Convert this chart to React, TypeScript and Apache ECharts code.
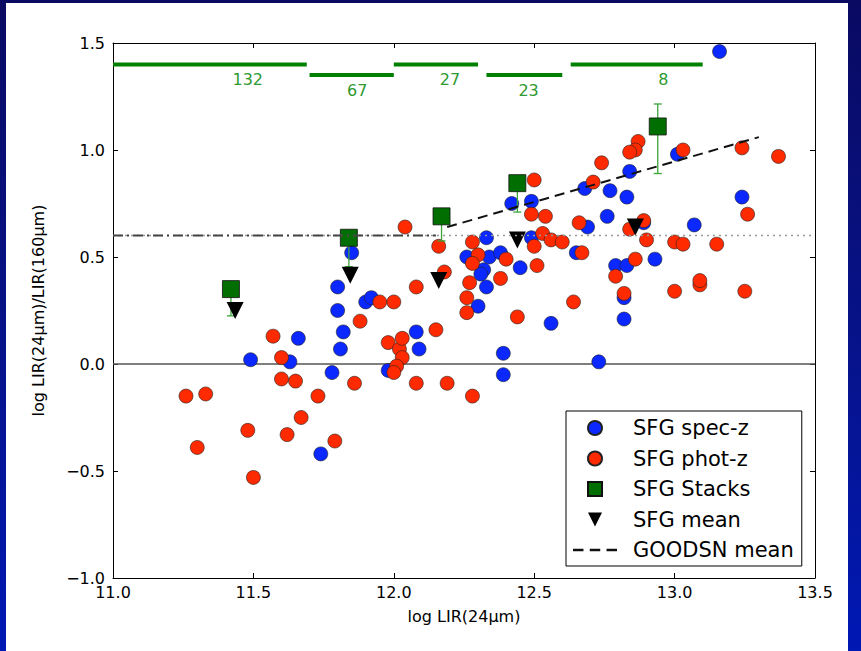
import React, { useEffect, useRef } from "react";
import * as echarts from "echarts";

// ---- data ----
const specZ: number[][] = [
  [13.16, 1.46], [11.49, 0.02], [11.63, 0.01], [11.66, 0.12], [11.74, -0.42],
  [11.78, -0.04], [11.80, 0.36], [11.80, 0.25], [11.82, 0.15], [11.81, 0.07],
  [11.85, 0.52], [11.90, 0.29], [11.92, 0.31], [11.98, -0.03], [12.08, 0.15],
  [12.09, 0.07], [12.42, 0.75], [12.49, 0.76], [12.33, 0.59], [12.49, 0.59],
  [12.26, 0.50], [12.34, 0.50], [12.38, 0.52], [12.45, 0.45], [12.32, 0.44],
  [12.31, 0.42], [12.33, 0.36], [12.30, 0.27], [12.39, 0.05], [12.39, -0.05],
  [12.56, 0.19], [12.73, 0.01], [12.65, 0.52], [12.69, 0.64], [12.68, 0.82],
  [12.77, 0.81], [12.83, 0.78], [12.84, 0.90], [12.76, 0.69], [12.89, 0.66],
  [12.79, 0.46], [12.83, 0.46], [12.93, 0.49], [12.82, 0.31], [12.82, 0.21],
  [13.07, 0.65], [13.01, 0.98], [13.24, 0.78],
];

const photZ: number[][] = [
  [11.26, -0.15], [11.33, -0.14], [11.30, -0.39], [11.48, -0.31], [11.50, -0.53],
  [11.57, 0.13], [11.60, 0.03], [11.60, -0.07], [11.65, -0.08], [11.62, -0.33],
  [11.67, -0.25], [11.73, -0.15], [11.79, -0.36], [11.86, -0.09], [11.88, 0.20],
  [11.95, 0.29], [12.00, 0.29], [11.98, 0.10], [12.02, 0.07], [12.03, 0.12],
  [12.03, 0.03], [12.01, -0.01], [12.00, -0.04], [12.08, -0.09], [12.15, 0.16],
  [12.19, -0.09], [12.04, 0.64], [12.16, 0.55], [12.18, 0.43], [12.08, 0.36],
  [12.28, 0.57], [12.30, 0.51], [12.28, 0.47], [12.40, 0.49], [12.27, 0.38],
  [12.38, 0.40], [12.26, 0.31], [12.26, 0.24], [12.44, 0.22], [12.28, -0.15],
  [12.50, 0.86], [12.49, 0.70], [12.54, 0.69], [12.53, 0.61], [12.56, 0.58],
  [12.50, 0.55], [12.60, 0.57], [12.51, 0.46], [12.64, 0.29], [12.66, 0.66],
  [12.67, 0.52], [12.71, 0.85], [12.74, 0.94], [12.87, 1.04], [12.86, 1.00],
  [12.84, 0.99], [12.89, 0.67], [12.84, 0.63], [12.90, 0.58], [12.86, 0.49],
  [12.79, 0.41], [12.82, 0.33], [13.00, 0.57], [13.03, 0.56], [13.15, 0.56],
  [13.03, 1.00], [13.00, 0.34], [13.09, 0.37], [13.09, 0.39], [13.24, 1.01],
  [13.37, 0.97], [13.26, 0.70], [13.25, 0.34],
];

const stackX = [11.42, 11.84, 12.17, 12.44, 12.94];
const stackY = [0.35, 0.59, 0.69, 0.845, 1.11];
const stackErrLow = [0.125, 0.135, 0.115, 0.135, 0.22];
const stackErrHigh = [0, 0, 0, 0, 0.105];

const meanX = [11.435, 11.845, 12.16, 12.44, 12.86];
const meanY = [0.25, 0.415, 0.39, 0.58, 0.64];

const goodsnX = [12.19, 13.3];
const goodsnY = [0.64, 1.06];

const refLevel = 0.6;
const dashDotEnd = 12.15;

const binStart = [11.0, 11.7, 12.0, 12.33, 12.63];
const binEnd = [11.69, 12.0, 12.3, 12.6, 13.1];
const binLevel = [1.4, 1.35, 1.4, 1.35, 1.4];
const binLabelX = [11.48, 11.87, 12.2, 12.48, 12.96];
const binCount = [132, 67, 27, 23, 8];

const xTickLabels = ["11.0", "11.5", "12.0", "12.5", "13.0", "13.5"];
const yTickLabels = ["\u22121.0", "\u22120.5", "0.0", "0.5", "1.0", "1.5"];

const FONT = "DejaVu Sans";
const DOWN_TRI = "path://M0,0 L10,0 L5,10 Z";
const SQUARE = "path://M0,0 L10,0 L10,10 L0,10 Z";
const DASH_ICON = "path://M0,0h10v2.2h-10z M16,0h10v2.2h-10z M32,0h10v2.2h-10z";

export default function App() {
  const ref = useRef<HTMLDivElement>(null);

  useEffect(() => {
    document.body.style.margin = "0";
    if (!ref.current) return;
    const chart = echarts.init(ref.current, null, { renderer: "svg" });

    const xMin = 11, xMax = 13.5, yMin = -1, yMax = 1.5, step = 0.5;
    const xFmt = (v: number) => xTickLabels[Math.round((v - xMin) / step)] ?? "";
    const yFmt = (v: number) => yTickLabels[Math.round((v - yMin) / step)] ?? "";

    const baseAxis = {
      axisLine: { show: true, onZero: false, lineStyle: { color: "#000", width: 1 } },
      axisTick: { show: true, inside: true, length: 5, lineStyle: { color: "#000" } },
      splitLine: { show: false },
    };

    chart.setOption({
      animation: false,
      textStyle: { fontFamily: FONT },
      grid: { left: 113, right: 46, top: 43, bottom: 73 },
      xAxis: [
        {
          ...baseAxis,
          type: "value", position: "bottom", min: xMin, max: xMax, interval: step,
          axisLabel: { formatter: xFmt, color: "#000", fontSize: 16, fontFamily: FONT, margin: 6 },
          name: "log LIR(24\u03bcm)", nameLocation: "middle", nameGap: 30,
          nameTextStyle: { color: "#000", fontSize: 16, fontFamily: FONT },
        },
        {
          ...baseAxis,
          type: "value", position: "top", min: xMin, max: xMax, interval: step,
          axisLabel: { show: false },
        },
      ],
      yAxis: [
        {
          ...baseAxis,
          type: "value", position: "left", min: yMin, max: yMax, interval: step,
          axisLabel: { formatter: yFmt, color: "#000", fontSize: 16, fontFamily: FONT, margin: 8 },
          name: "log LIR(24\u03bcm)/LIR(160\u03bcm)", nameLocation: "middle", nameGap: 67,
          nameTextStyle: { color: "#000", fontSize: 16, fontFamily: FONT },
        },
        {
          ...baseAxis,
          type: "value", position: "right", min: yMin, max: yMax, interval: step,
          axisLabel: { show: false },
        },
      ],
      legend: {
        orient: "vertical",
        left: 566,
        top: 411,
        padding: [6.5, 8, 5.5, 7],
        itemGap: 9.5,
        itemWidth: 44,
        itemHeight: 14,
        borderColor: "#000",
        borderWidth: 1,
        borderRadius: 0,
        backgroundColor: "#fff",
        symbolKeepAspect: true,
        textStyle: { fontSize: 21, lineHeight: 21, color: "#000", fontFamily: FONT, padding: [0, 0, 0, 11] },
        data: [
          { name: "SFG spec-z", icon: "circle" },
          { name: "SFG phot-z", icon: "circle" },
          { name: "SFG Stacks", icon: SQUARE },
          { name: "SFG mean", icon: DOWN_TRI },
          { name: "GOODSN mean", icon: DASH_ICON, itemStyle: { color: "#111", borderWidth: 0 } },
        ],
      },
      series: [
        {
          name: "zero",
          type: "line",
          data: [[xMin, 0], [xMax, 0]],
          symbol: "none",
          lineStyle: { color: "#555", width: 1.5 },
          z: 1,
          silent: true,
        },
        {
          name: "SFG spec-z",
          type: "scatter",
          data: specZ,
          symbol: "circle",
          symbolSize: 14,
          itemStyle: { color: "#0a28ff", borderColor: "#222", borderWidth: 0.6, opacity: 1 },
          z: 2,
        },
        {
          name: "SFG phot-z",
          type: "scatter",
          data: photZ,
          symbol: "circle",
          symbolSize: 14,
          itemStyle: { color: "#ff2a00", borderColor: "#222", borderWidth: 0.6, opacity: 1 },
          z: 3,
        },
        {
          name: "errbars",
          type: "custom",
          z: 4,
          data: stackX.map((x, i) => [x, stackY[i], stackY[i] - stackErrLow[i], stackY[i] + stackErrHigh[i]]),
          encode: { x: 0, y: [1, 2, 3] },
          renderItem: (_params: any, api: any) => {
            const x = api.value(0);
            const y = api.value(1);
            const lo = api.value(2);
            const hi = api.value(3);
            const pLo = api.coord([x, lo]);
            const pHi = api.coord([x, hi]);
            const stroke = "#3aa53a";
            const children: any[] = [
              { type: "line", shape: { x1: pLo[0], y1: pLo[1], x2: pHi[0], y2: pHi[1] }, style: { stroke, lineWidth: 1.3 } },
            ];
            if (lo < y) children.push({ type: "line", shape: { x1: pLo[0] - 4, y1: pLo[1], x2: pLo[0] + 4, y2: pLo[1] }, style: { stroke, lineWidth: 1.3 } });
            if (hi > y) children.push({ type: "line", shape: { x1: pHi[0] - 4, y1: pHi[1], x2: pHi[0] + 4, y2: pHi[1] }, style: { stroke, lineWidth: 1.3 } });
            return { type: "group", children };
          },
        },
        {
          name: "SFG Stacks",
          type: "scatter",
          data: stackX.map((x, i) => [x, stackY[i]]),
          symbol: "rect",
          symbolSize: 17,
          itemStyle: { color: "#006e00", borderColor: "#111", borderWidth: 0.8, opacity: 1 },
          z: 5,
        },
        {
          name: "SFG mean",
          type: "scatter",
          data: meanX.map((x, i) => [x, meanY[i]]),
          symbol: DOWN_TRI,
          symbolSize: [17, 17],
          itemStyle: { color: "#000", opacity: 1 },
          z: 6,
        },
        {
          name: "ref dotted",
          type: "line",
          data: [[xMin, refLevel], [xMax, refLevel]],
          symbol: "none",
          lineStyle: { color: "#999", width: 1.5, type: [2, 4] },
          z: 7,
          silent: true,
        },
        {
          name: "ref dashdot",
          type: "line",
          data: [[xMin, refLevel], [dashDotEnd, refLevel]],
          symbol: "none",
          lineStyle: { color: "#444", width: 2, type: [10, 4, 2, 4] },
          z: 7,
          silent: true,
        },
        {
          name: "GOODSN mean",
          type: "line",
          data: goodsnX.map((x, i) => [x, goodsnY[i]]),
          symbol: "none",
          itemStyle: { color: "#111" },
          lineStyle: { color: "#111", width: 2, type: [10, 6] },
          z: 8,
        },
        {
          name: "bins",
          type: "custom",
          z: 9,
          data: binStart.map((s, i) => [s, binEnd[i], binLevel[i], binLabelX[i], binCount[i]]),
          encode: { x: [0, 1, 3], y: 2 },
          renderItem: (_params: any, api: any) => {
            const lvl = api.value(2);
            const p0 = api.coord([api.value(0), lvl]);
            const p1 = api.coord([api.value(1), lvl]);
            const pl = api.coord([api.value(3), lvl]);
            return {
              type: "group",
              children: [
                { type: "line", shape: { x1: p0[0], y1: p0[1], x2: p1[0], y2: p1[1] }, style: { stroke: "#008000", lineWidth: 4 } },
                {
                  type: "text",
                  style: {
                    text: String(api.value(4)),
                    x: pl[0],
                    y: p0[1] + 15,
                    fill: "#2f9a2f",
                    font: `16px ${FONT}`,
                    align: "center",
                    verticalAlign: "middle",
                  },
                },
              ],
            };
          },
        },
      ],
    });

    return () => chart.dispose();
  }, []);

  return (
    <div
      style={{
        position: "relative",
        width: 861,
        height: 651,
        overflow: "hidden",
        background: "linear-gradient(to bottom, #0a0a62 0%, #061490 60%, #0018b4 100%)",
      }}
    >
      <div style={{ position: "absolute", left: 6, top: 3, right: 13, bottom: 0, background: "#fff" }} />
      <div ref={ref} style={{ position: "absolute", left: 0, top: 0, width: 861, height: 651 }} />
    </div>
  );
}
